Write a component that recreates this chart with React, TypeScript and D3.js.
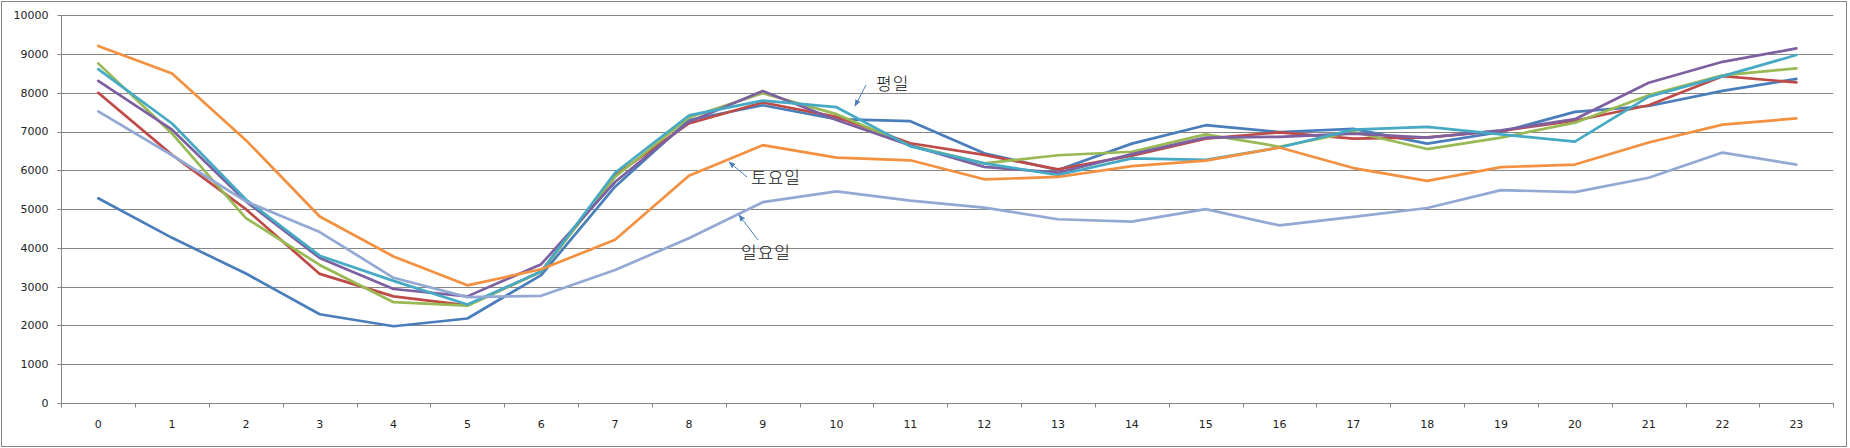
import React from "react";
import * as d3 from "d3";

const hours = Array.from({ length: 24 }, (_, i) => String(i));
const yTicks = [0, 1000, 2000, 3000, 4000, 5000, 6000, 7000, 8000, 9000, 10000];

const seriesNames = ["월", "화", "수", "목", "금", "토", "일"];
const seriesColors = ["#4A7EBB", "#BE4B48", "#98B954", "#7D60A0", "#46AAC5", "#F39141", "#93A9D4"];

const mon = [5280, 4260, 3340, 2290, 1980, 2180, 3300, 5580, 7300, 7680, 7320, 7270, 6440, 6010, 6690, 7165, 6990, 7070, 6690, 6990, 7510, 7660, 8050, 8360];
const tue = [8000, 6400, 5000, 3330, 2750, 2520, 3390, 5880, 7210, 7750, 7380, 6700, 6400, 6025, 6380, 6820, 6980, 6820, 6850, 7020, 7280, 7680, 8430, 8270];
const wed = [8760, 6950, 4770, 3560, 2600, 2510, 3390, 5830, 7365, 7990, 7450, 6640, 6180, 6390, 6480, 6930, 6610, 6990, 6550, 6845, 7230, 7940, 8450, 8630];
const thu = [8310, 7050, 5200, 3740, 2940, 2750, 3580, 5700, 7250, 8050, 7300, 6640, 6090, 5940, 6420, 6845, 6865, 6950, 6845, 7035, 7320, 8260, 8800, 9145];
const fri = [8610, 7210, 5250, 3800, 3150, 2540, 3390, 5940, 7417, 7800, 7630, 6620, 6180, 5880, 6310, 6270, 6590, 7050, 7120, 6930, 6740, 7900, 8430, 8975];
const sat = [9210, 8500, 6780, 4810, 3780, 3035, 3450, 4210, 5860, 6650, 6330, 6260, 5770, 5830, 6110, 6250, 6590, 6060, 5730, 6085, 6150, 6720, 7180, 7340];
const sun = [7520, 6390, 5200, 4410, 3230, 2730, 2765, 3430, 4250, 5180, 5460, 5220, 5040, 4740, 4680, 5000, 4580, 4800, 5030, 5490, 5440, 5810, 6460, 6150];

const seriesValues = [mon, tue, wed, thu, fri, sat, sun];

const annotations = [
  { text: "평일", tx: 876, ty: 90, from: [866, 85], to: [855, 106] },
  { text: "토요일", tx: 751, ty: 184, from: [747, 177], to: [729, 162] },
  { text: "일요일", tx: 741, ty: 259, from: [758, 240], to: [739, 215] },
];

export default function App() {
  const W = 1850;
  const H = 448;
  const left = 61.3;
  const right = 1833.3;
  const top = 15.3;
  const bottom = 403;

  const x = d3.scaleBand<string>().domain(hours).range([left, right]).padding(0);
  const y = d3.scaleLinear().domain([0, 10000]).range([bottom, top]);
  const cx = (i: number) => (x(hours[i]) as number) + x.bandwidth() / 2;

  const line = d3
    .line<number>()
    .x((_, i) => cx(i))
    .y((d) => y(d));

  const gridColor = "#868686";
  const boundaries = hours.map((h) => x(h) as number).concat([right]);

  return (
    <svg
      width={W}
      height={H}
      style={{ position: "absolute", left: 0, top: 0, background: "#fff" }}
      fontFamily="DejaVu Sans, sans-serif"
    >
      <defs>
        <marker id="arr" viewBox="0 0 10 10" refX="9" refY="5" markerWidth="7" markerHeight="7" orient="auto">
          <path d="M0,1 L10,5 L0,9 z" fill="#4A7EBB" />
        </marker>
      </defs>
      <rect x={1.5} y={1.5} width={1845} height={445} fill="#fff" stroke={gridColor} strokeWidth={1} />
      {yTicks.map((t) => (
        <g key={t}>
          <line x1={57.5} x2={right} y1={Math.round(y(t)) + 0.5} y2={Math.round(y(t)) + 0.5} stroke={gridColor} strokeWidth={1} />
          <text x={48.5} y={y(t)} dy="0.35em" textAnchor="end" fontSize={11} fill="#222">
            {t}
          </text>
        </g>
      ))}
      <line x1={Math.round(left) + 0.5} x2={Math.round(left) + 0.5} y1={top} y2={bottom + 4} stroke={gridColor} strokeWidth={1} />
      {boundaries.map((b, i) => (
        <line key={i} x1={Math.round(b) + 0.5} x2={Math.round(b) + 0.5} y1={bottom} y2={bottom + 4.5} stroke={gridColor} strokeWidth={1} />
      ))}
      {hours.map((h, i) => (
        <text key={h} x={cx(i)} y={428} textAnchor="middle" fontSize={11} fill="#222">
          {h}
        </text>
      ))}
      {seriesValues.map((vals, si) => (
        <path
          key={seriesNames[si]}
          d={line(vals) || ""}
          fill="none"
          stroke={seriesColors[si]}
          strokeWidth={2.7}
          strokeLinejoin="round"
          strokeLinecap="round"
        />
      ))}
      {annotations.map((a) => (
        <g key={a.text}>
          <line x1={a.from[0]} y1={a.from[1]} x2={a.to[0]} y2={a.to[1]} stroke="#4A7EBB" strokeWidth={1} markerEnd="url(#arr)" />
          <text x={a.tx} y={a.ty} fontSize={17} fontWeight={300} fill="#111" fontFamily="Noto Sans CJK KR, sans-serif" letterSpacing={1}>
            {a.text}
          </text>
        </g>
      ))}
    </svg>
  );
}
